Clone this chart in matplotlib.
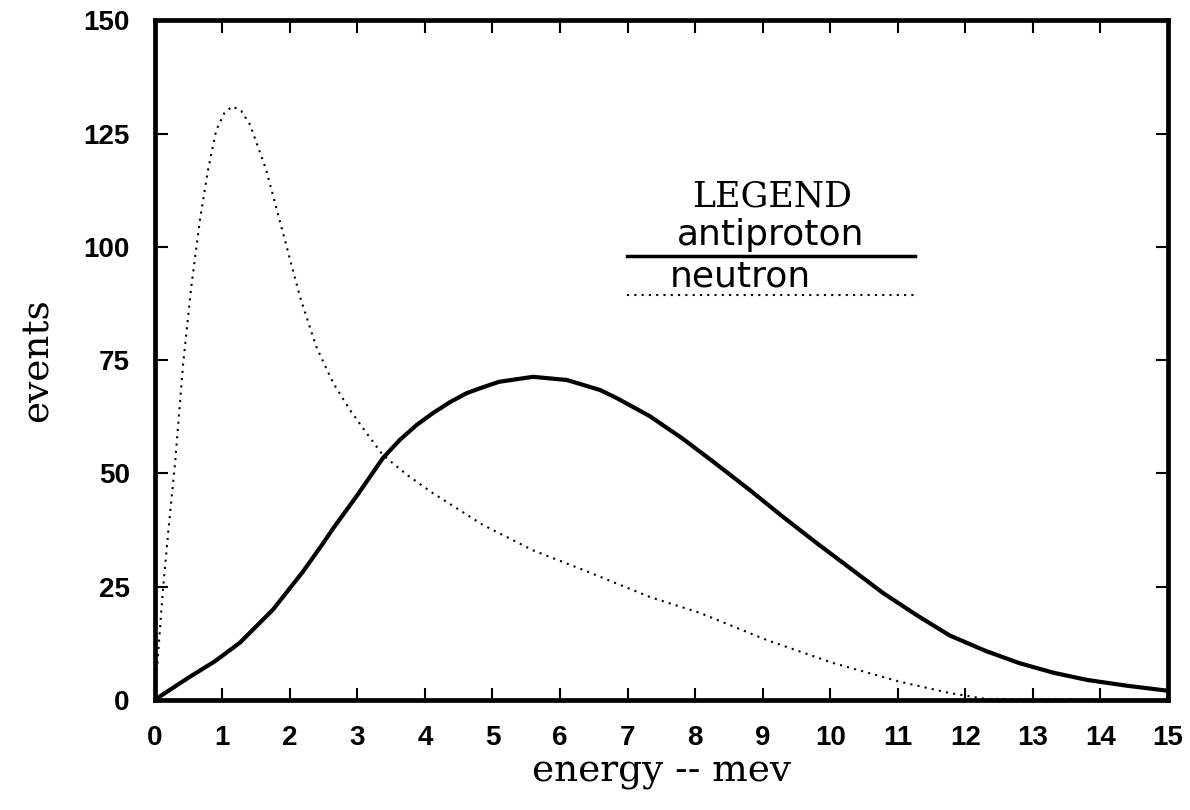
import matplotlib

matplotlib.use("Agg")
import matplotlib.pyplot as plt

# energy (mev) / events
antiproton_x = [0, 0.49, 0.89, 1.26, 1.75, 2.19, 2.49, 2.64, 3, 3.38, 3.63, 3.88, 4.12,
                4.37, 4.62, 4.86, 5.1, 5.6, 6.1, 6.59, 6.84, 7.33, 7.82, 8.3, 8.81,
                9.3, 9.8, 10.3, 10.78, 11.3, 11.77, 12.3, 12.8, 13.3, 13.8, 14.4, 15]
antiproton_y = [0, 4.8, 8.5, 12.6, 19.9, 28.2, 34.5, 37.8, 45.2, 53.4, 57.4, 60.7, 63.3,
                65.7, 67.7, 69, 70.2, 71.3, 70.6, 68.4, 66.6, 62.6, 57.6, 52.2, 46.3,
                40.4, 34.6, 29, 23.6, 18.5, 14.2, 10.8, 8.1, 6.0, 4.4, 3.1, 2.0]

neutron_x = [0, 0.05, 0.12, 0.2, 0.3, 0.42, 0.54, 0.67, 0.79, 0.91, 1.03, 1.15, 1.28,
             1.41, 1.65, 1.9, 2.15, 2.39, 2.64, 2.89, 3.13, 3.38, 3.75, 4.12, 4.86,
             5.6, 6.34, 7.33, 8.07, 9.06, 10.05, 11.03, 11.77, 12.3, 15]
neutron_y = [0, 10, 24, 37, 52, 74, 91, 106, 117, 125.7, 129.5, 131, 130,
             127, 117, 103, 89, 78, 70, 64, 59, 54, 49.5, 45.6, 38.6,
             33, 28.7, 22.7, 19.2, 13.2, 8.1, 4.0, 1.5, 0.2, 0]

x_ticks = list(range(0, 16))
y_ticks = [0, 25, 50, 75, 100, 125, 150]

legend_title = "LEGEND"
series_names = ["antiproton", "neutron"]

DOT_STYLE = (0, (1, 2.5))

fig = plt.figure(figsize=(11.9, 8.1), dpi=100)
ax = fig.add_axes([0.130, 0.136, 0.8515, 0.839])

ax.plot(antiproton_x, antiproton_y, color="black", lw=3.0,
        solid_capstyle="round", solid_joinstyle="round")
ax.plot(neutron_x, neutron_y, color="black", lw=1.5, linestyle=DOT_STYLE)

ax.set_xlim(0, 15)
ax.set_ylim(0, 150)
ax.set_xticks(x_ticks)
ax.set_yticks(y_ticks)

tick_font = dict(family="Liberation Sans", weight="bold", size=20)
ax.set_xticklabels([str(v) for v in x_ticks], fontdict=tick_font)
ax.set_yticklabels([str(v) for v in y_ticks], fontdict=tick_font)
ax.tick_params(direction="in", length=9, width=1.5, pad=18,
               top=True, right=True, labeltop=False, labelright=False)

for spine in ax.spines.values():
    spine.set_linewidth(3.4)

ax.set_xlabel("energy -- mev", family="DejaVu Serif", size=27, labelpad=2)
ax.set_ylabel("events", family="DejaVu Serif", size=27, labelpad=20)

# hand-drawn legend block inside the axes
ax.text(9.14, 111, legend_title, family="DejaVu Serif", size=25,
        ha="center", va="center")
ax.text(9.12, 102.5, series_names[0], family="DejaVu Sans", size=26,
        ha="center", va="center")
ax.plot([6.99, 11.25], [97.9, 97.9], color="black", lw=2.5)
ax.text(7.63, 93.5, series_names[1], family="DejaVu Sans", size=26,
        ha="left", va="center")
ax.plot([6.99, 11.25], [89.3, 89.3], color="black", lw=1.5, linestyle=DOT_STYLE)

fig.savefig("out.png", dpi=100)
